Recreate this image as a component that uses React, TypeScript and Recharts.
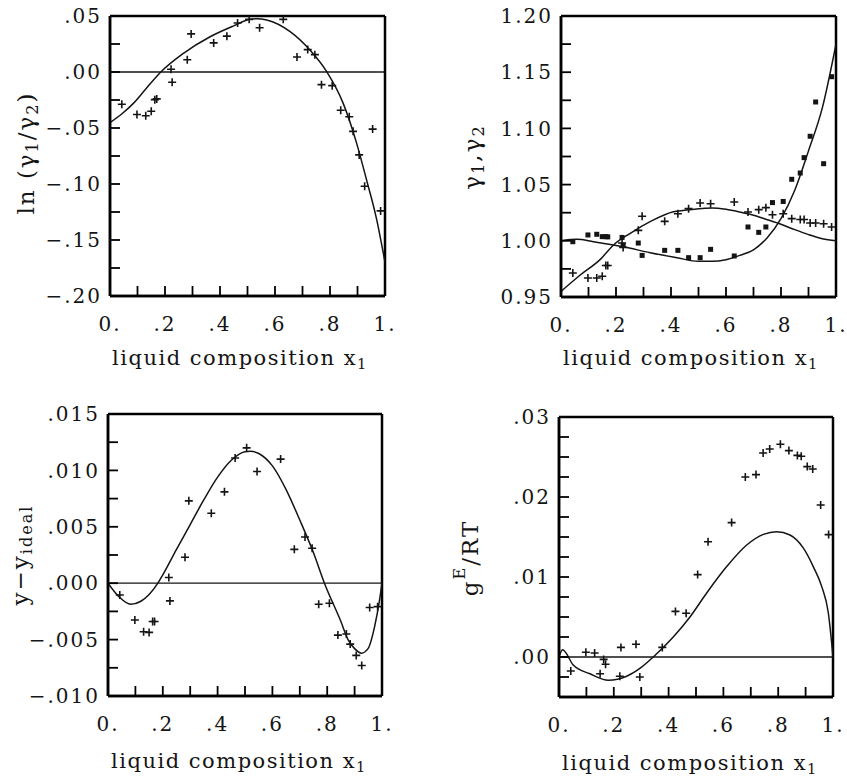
import React from 'react';
import {
    ComposedChart,
    Line,
    Scatter,
    XAxis,
    YAxis,
    ReferenceLine,
} from 'recharts';

const FONT = '"DejaVu Serif", serif';
const INK = '#141414';
const FRAME = '#000';

// liquid compositions x1 of the measured points (same for all four panels)
const xData = [
    0.043, 0.098, 0.13, 0.15, 0.163, 0.17, 0.222, 0.226, 0.281, 0.295, 0.377, 0.425, 0.464, 0.506,
    0.544, 0.63, 0.68, 0.719, 0.745, 0.769, 0.808, 0.839, 0.87, 0.884, 0.906, 0.926, 0.955, 0.984,
];

// panel 1: ln(gamma1/gamma2)
const lnRatioPts = [
    -0.0288, -0.038, -0.039, -0.035, -0.0247, -0.024, 0.0024, -0.0092, 0.011, 0.034, 0.026, 0.032,
    0.0437, 0.047, 0.0395, 0.047, 0.0134, 0.02, 0.0155, -0.0113, -0.0122, -0.0342, -0.04, -0.053,
    -0.074, -0.102, -0.051, -0.124,
];
const lnRatioCurveX = [0, 0.0425, 0.085, 0.13, 0.182, 0.267, 0.364, 0.448, 0.509, 0.535, 0.57, 0.655, 0.727, 0.788, 0.848, 0.897, 0.933, 0.97, 0.994, 1.0];
const lnRatioCurveY = [-0.0452, -0.0375, -0.028, -0.0152, -0.0006, 0.0167, 0.0315, 0.041, 0.047, 0.0476, 0.0464, 0.036, 0.0196, 0.0003, -0.028, -0.0637, -0.0964, -0.132, -0.162, -0.17];

// panel 2: gamma1 (+) and gamma2 (squares)
const gamma1Pts = [
    0.9713, 0.9669, 0.9669, 0.9684, 0.978, 0.978, 0.998, 0.994, 1.0093, 1.0218, 1.0173, 1.0241,
    1.0286, 1.0336, 1.033, 1.0345, 1.0256, 1.0277, 1.0295, 1.0232, 1.0241, 1.0197, 1.019, 1.019,
    1.0158, 1.0158, 1.0152, 1.0123,
];
const gamma2Pts = [
    0.9992, 1.0052, 1.0058, 1.0037, 1.0037, 1.0035, 1.003, 0.996, 0.998, 0.987, 0.9915, 0.9915,
    0.985, 0.985, 0.9924, 0.9865, 1.0123, 1.0075, 1.0123, 1.034, 1.035, 1.0547, 1.0603, 1.074,
    1.093, 1.1235, 1.0686, 1.146,
];
const gamma1CurveX = [0, 0.07, 0.143, 0.191, 0.252, 0.324, 0.409, 0.45, 0.5, 0.55, 0.6, 0.65, 0.7, 0.75, 0.8, 0.85, 0.9, 0.95, 1.0];
const gamma1CurveY = [0.955, 0.9696, 0.9835, 0.9963, 1.0067, 1.017, 1.0259, 1.0271, 1.0286, 1.0292, 1.028, 1.0256, 1.0227, 1.0188, 1.0147, 1.0099, 1.0055, 1.0019, 1.0];
const gamma2CurveX = [0, 0.058, 0.118, 0.227, 0.324, 0.421, 0.5, 0.55, 0.6, 0.65, 0.7, 0.75, 0.8, 0.85, 0.9, 0.95, 1.0];
const gamma2CurveY = [1.0, 1.0013, 0.9992, 0.9947, 0.9894, 0.985, 0.9817, 0.9817, 0.9832, 0.987, 0.992, 1.0028, 1.0197, 1.045, 1.08, 1.118, 1.175];

// panel 3: y - y_ideal
const yDevPts = [
    -0.00104, -0.00326, -0.0043, -0.00436, -0.0034, -0.0034, 0.0005, -0.00157, 0.0023, 0.0073,
    0.0062, 0.0081, 0.0111, 0.012, 0.0099, 0.011, 0.003, 0.0041, 0.0031, -0.00187, -0.00178,
    -0.0046, -0.0045, -0.0054, -0.0064, -0.0073, -0.00216, -0.00208,
];
const yDevCurveX = [0, 0.04, 0.083, 0.12, 0.15, 0.182, 0.2, 0.25, 0.3, 0.35, 0.4, 0.45, 0.5, 0.52, 0.55, 0.6, 0.65, 0.7, 0.75, 0.79, 0.85, 0.876, 0.9, 0.925, 0.949, 0.973, 0.991, 1.0];
const yDevCurveY = [0, -0.0012, -0.00187, -0.0016, -0.001, 0, 0.00074, 0.003, 0.0052, 0.0074, 0.0094, 0.0109, 0.01166, 0.0117, 0.0115, 0.0104, 0.0083, 0.0056, 0.0027, 0, -0.0034, -0.005, -0.0058, -0.0062, -0.0058, -0.00385, -0.0015, 0];

// panel 4: gE/RT
const gERTPts = [
    -0.00175, 0.0006, 0.0005, -0.0021, -0.0003, -0.0009, -0.0024, 0.0012, 0.0016, -0.0025, 0.0012,
    0.0057, 0.00546, 0.0103, 0.0144, 0.0168, 0.0225, 0.0228, 0.0255, 0.026, 0.0266, 0.0258, 0.0252,
    0.0251, 0.0238, 0.0235, 0.019, 0.0153,
];
const gERTCurveX = [0, 0.013, 0.052, 0.113, 0.18, 0.247, 0.3, 0.344, 0.417, 0.478, 0.539, 0.612, 0.685, 0.746, 0.794, 0.843, 0.892, 0.928, 0.959, 0.983, 1.0];
const gERTCurveY = [0, 0.0009, -0.001, -0.0021, -0.0029, -0.0024, -0.0013, 0, 0.0025, 0.005, 0.008, 0.0113, 0.014, 0.01533, 0.01567, 0.01525, 0.0136, 0.0113, 0.0088, 0.0055, 0];

// axis ticks
const xTicks = [0, 0.1, 0.2, 0.3, 0.4, 0.5, 0.6, 0.7, 0.8, 0.9, 1.0];
const xMajor = [0, 0.2, 0.4, 0.6, 0.8, 1.0];
const xLabels = ['0.', '.2', '.4', '.6', '.8', '1.'];

const lnTicks = [-0.2, -0.175, -0.15, -0.125, -0.1, -0.075, -0.05, -0.025, 0, 0.025, 0.05];
const lnMajor = [-0.2, -0.15, -0.1, -0.05, 0, 0.05];
const lnLabels = ['\u2212.20', '\u2212.15', '\u2212.10', '\u2212.05', '.00', '.05'];

const gammaTicks = [0.95, 0.975, 1.0, 1.025, 1.05, 1.075, 1.1, 1.125, 1.15, 1.175, 1.2];
const gammaMajor = [0.95, 1.0, 1.05, 1.1, 1.15, 1.2];
const gammaLabels = ['0.95', '1.00', '1.05', '1.10', '1.15', '1.20'];

const yDevTicks = [-0.01, -0.0075, -0.005, -0.0025, 0, 0.0025, 0.005, 0.0075, 0.01, 0.0125, 0.015];
const yDevMajor = [-0.01, -0.005, 0, 0.005, 0.01, 0.015];
const yDevLabels = ['\u2212.010', '\u2212.005', '.000', '.005', '.010', '.015'];

const gERTTicks = [-0.005, -0.0025, 0, 0.0025, 0.005, 0.0075, 0.01, 0.0125, 0.015, 0.0175, 0.02, 0.0225, 0.025, 0.0275, 0.03];
const gERTMajor = [0, 0.01, 0.02, 0.03];
const gERTLabels = ['.00', '.01', '.02', '.03'];

const zip = (xs: number[], ys: number[]) => xs.map((x, i) => ({ x, y: ys[i] }));
const near = (list: number[], v: number) => list.findIndex((m) => Math.abs(m - v) < 1e-9);
const labelFor = (major: number[], labels: string[]) => (v: number) => {
    const i = near(major, v);
    return i >= 0 ? labels[i] : '';
};

const PlusMark = (p: any) => (
    <path d={`M${p.cx - 4},${p.cy}H${p.cx + 4}M${p.cx},${p.cy - 4}V${p.cy + 4}`} stroke={INK} strokeWidth={1.6} fill="none" />
);
const SquareMark = (p: any) => <rect x={p.cx - 2.5} y={p.cy - 2.5} width={5} height={5} fill={INK} />;

const tickFont = { fontFamily: FONT, fontSize: 20, fill: INK, letterSpacing: 2 };
const frame = { stroke: FRAME, strokeWidth: 2.5 };
const tickStroke = { stroke: FRAME, strokeWidth: 1.8 };
const TICK_IN = -10; // negative tick size draws the tick marks inside the plot

interface PanelSpec {
    ox: number;
    oy: number;
    w: number;
    h: number;
    box: number[]; // page coords of plot area: left, top, right, bottom
    yDomain: [number, number];
    yTicks: number[];
    yMajor: number[];
    yLabels: string[];
    zero?: boolean;
    curves: { x: number; y: number }[][];
    plus: { x: number; y: number }[];
    squares?: { x: number; y: number }[];
}

function renderPanel(s: PanelSpec) {
    const l = s.box[0] - s.ox;
    const t = s.box[1] - s.oy;
    const r = s.box[2] - s.ox;
    const b = s.box[3] - s.oy;
    const [y0, y1] = s.yDomain;
    return (
        <div style={{ position: 'absolute', left: s.ox, top: s.oy }}>
            <ComposedChart width={s.w} height={s.h} margin={{ left: l - 60, top: t, right: s.w - r, bottom: s.h - b - 30 }}>
                <XAxis
                    type="number"
                    dataKey="x"
                    domain={[0, 1]}
                    ticks={xTicks}
                    interval={0}
                    allowDataOverflow
                    axisLine={frame}
                    tickLine={tickStroke}
                    tickSize={TICK_IN}
                    tickMargin={31}
                    height={30}
                    tick={tickFont}
                    tickFormatter={labelFor(xMajor, xLabels)}
                />
                <YAxis
                    type="number"
                    dataKey="y"
                    domain={s.yDomain}
                    ticks={s.yTicks}
                    interval={0}
                    allowDataOverflow
                    axisLine={frame}
                    tickLine={tickStroke}
                    tickSize={TICK_IN}
                    tickMargin={18}
                    width={60}
                    tick={tickFont}
                    tickFormatter={labelFor(s.yMajor, s.yLabels)}
                />
                <ReferenceLine x={0} stroke={FRAME} strokeWidth={2.5} />
                <ReferenceLine x={1} stroke={FRAME} strokeWidth={2.5} />
                <ReferenceLine y={y0} stroke={FRAME} strokeWidth={2.5} />
                <ReferenceLine y={y1} stroke={FRAME} strokeWidth={2.5} />
                {s.zero && <ReferenceLine y={0} stroke={INK} strokeWidth={1.3} />}
                {s.curves.map((c, i) => (
                    <Line key={'c' + i} data={c} dataKey="y" type="monotone" stroke={INK} strokeWidth={1.5} dot={false} isAnimationActive={false} />
                ))}
                <Scatter data={s.plus} shape={PlusMark} isAnimationActive={false} />
                {s.squares && <Scatter data={s.squares} shape={SquareMark} isAnimationActive={false} />}
            </ComposedChart>
        </div>
    );
}

const sub: React.CSSProperties = { fontSize: '0.7em', verticalAlign: '-0.3em' };
const sup: React.CSSProperties = { fontSize: '0.7em', verticalAlign: '0.75em' };

const titleBase: React.CSSProperties = {
    position: 'absolute',
    whiteSpace: 'nowrap',
    fontFamily: FONT,
    lineHeight: 1,
    color: INK,
};

const YTitle = ({ cx, cy, children }: { cx: number; cy: number; children: React.ReactNode }) => (
    <div style={{ ...titleBase, left: cx, top: cy, transform: 'translate(-50%, -50%) rotate(-90deg)', fontSize: 23, letterSpacing: 2 }}>
        {children}
    </div>
);

const XTitle = ({ cx, cy }: { cx: number; cy: number }) => (
    <div style={{ ...titleBase, left: cx, top: cy, transform: 'translate(-50%, -50%)', fontSize: 21, letterSpacing: 1.5 }}>
        liquid composition x<span style={sub}>1</span>
    </div>
);

export default function App() {
    return (
        <div style={{ position: 'absolute', left: 0, top: 0, width: 847, height: 776, background: '#fff' }}>
            {renderPanel({
                ox: 0,
                oy: 0,
                w: 424,
                h: 388,
                box: [110, 16, 385, 296],
                yDomain: [-0.2, 0.05],
                yTicks: lnTicks,
                yMajor: lnMajor,
                yLabels: lnLabels,
                zero: true,
                curves: [zip(lnRatioCurveX, lnRatioCurveY)],
                plus: zip(xData, lnRatioPts),
            })}
            {renderPanel({
                ox: 424,
                oy: 0,
                w: 423,
                h: 388,
                box: [561, 16, 836, 297],
                yDomain: [0.95, 1.2],
                yTicks: gammaTicks,
                yMajor: gammaMajor,
                yLabels: gammaLabels,
                curves: [zip(gamma1CurveX, gamma1CurveY), zip(gamma2CurveX, gamma2CurveY)],
                plus: zip(xData, gamma1Pts),
                squares: zip(xData, gamma2Pts),
            })}
            {renderPanel({
                ox: 0,
                oy: 388,
                w: 424,
                h: 388,
                box: [108, 414, 382, 696],
                yDomain: [-0.01, 0.015],
                yTicks: yDevTicks,
                yMajor: yDevMajor,
                yLabels: yDevLabels,
                zero: true,
                curves: [zip(yDevCurveX, yDevCurveY)],
                plus: zip(xData, yDevPts),
            })}
            {renderPanel({
                ox: 424,
                oy: 388,
                w: 423,
                h: 388,
                box: [559, 417, 833, 697],
                yDomain: [-0.005, 0.03],
                yTicks: gERTTicks,
                yMajor: gERTMajor,
                yLabels: gERTLabels,
                zero: true,
                curves: [zip(gERTCurveX, gERTCurveY)],
                plus: zip(xData, gERTPts),
            })}

            <YTitle cx={28} cy={153}>
                ln (γ<span style={sub}>1</span>/γ<span style={sub}>2</span>)
            </YTitle>
            <YTitle cx={474} cy={157}>
                γ<span style={sub}>1</span>,γ<span style={sub}>2</span>
            </YTitle>
            <YTitle cx={22} cy={555}>
                y{'\u2212'}y<span style={sub}>ideal</span>
            </YTitle>
            <YTitle cx={467} cy={558}>
                g<span style={sup}>E</span>/RT
            </YTitle>

            <XTitle cx={240} cy={360} />
            <XTitle cx={691} cy={360} />
            <XTitle cx={239} cy={763} />
            <XTitle cx={690} cy={765} />
        </div>
    );
}
